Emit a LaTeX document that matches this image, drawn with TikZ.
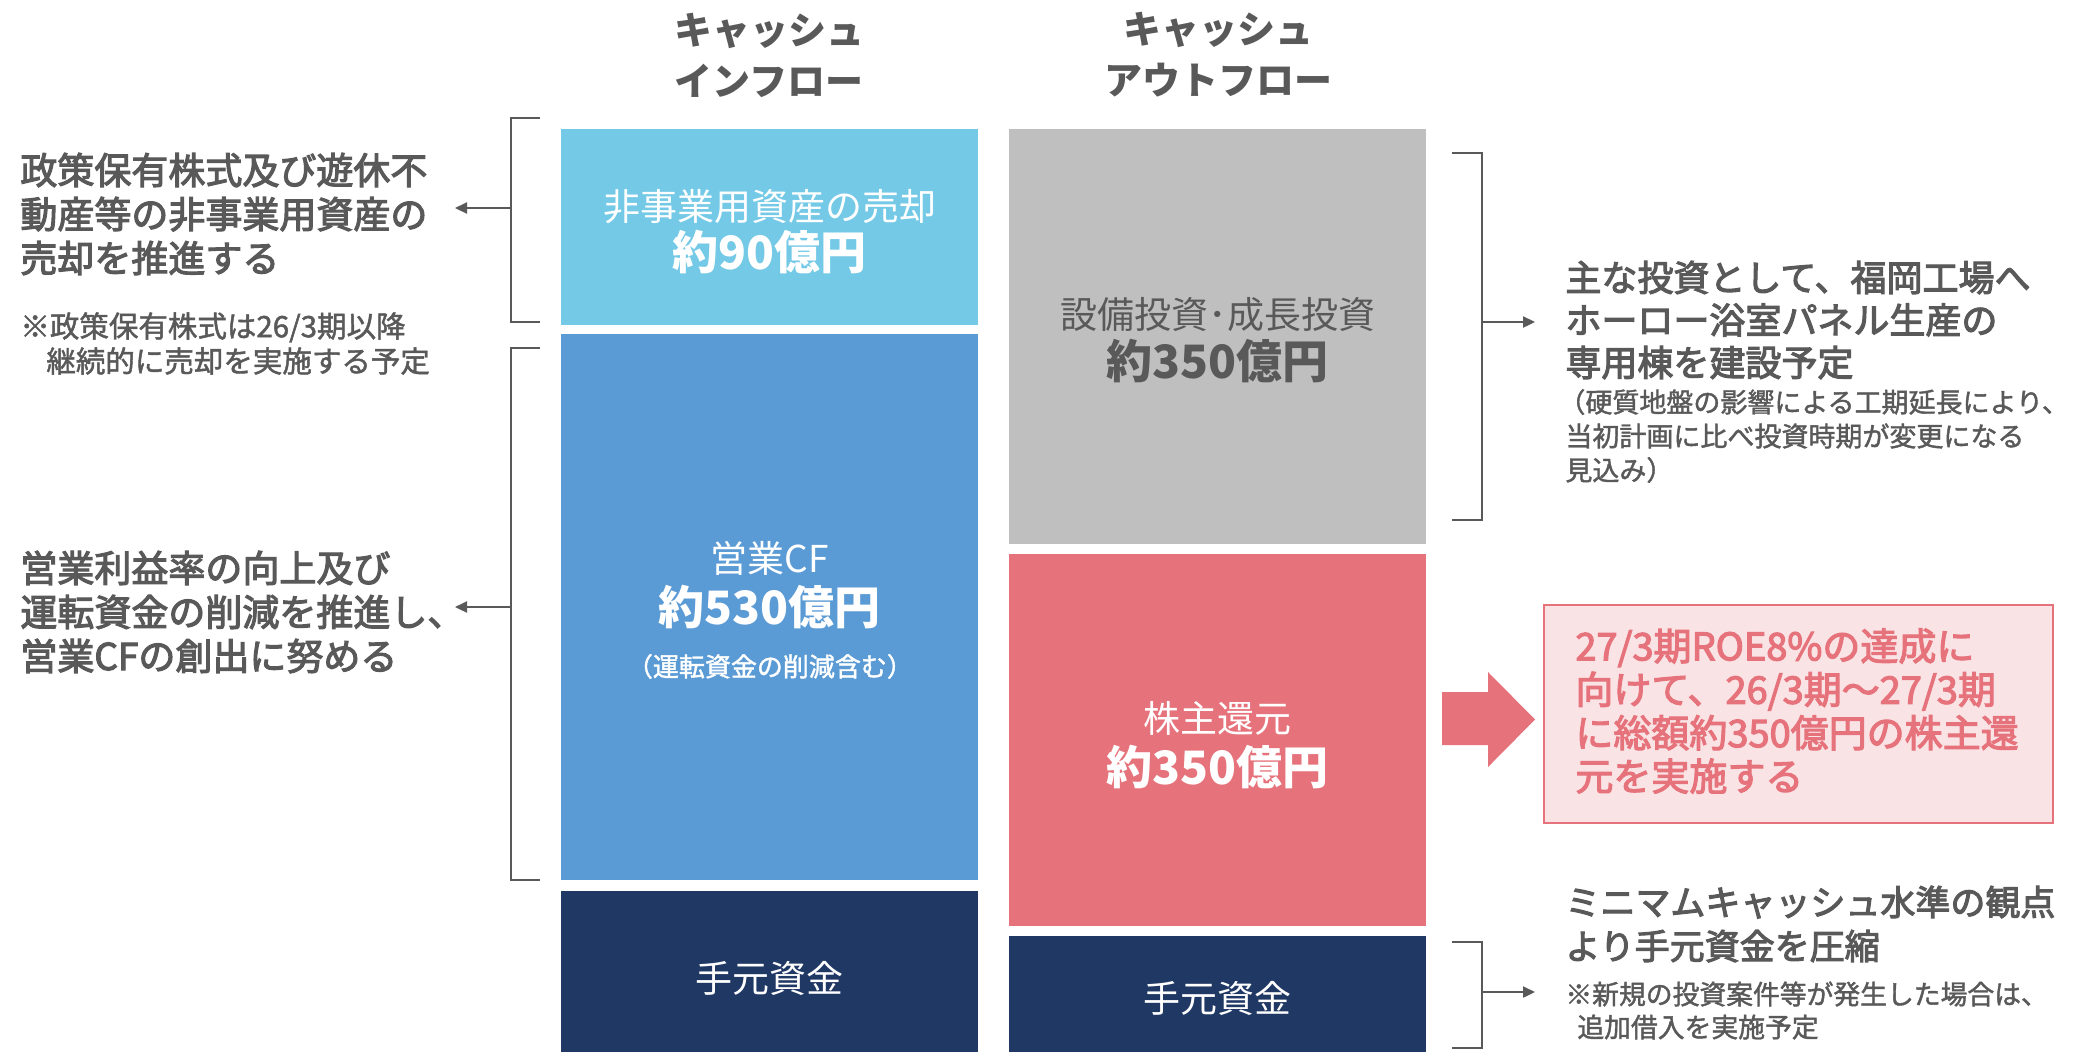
\documentclass[tikz,border=0pt]{standalone}
\usepackage{fontspec}
\setmainfont{Noto Sans CJK JP}
\newfontfamily\medf{Noto Sans CJK JP}[FakeBold=3]
\newfontfamily\semf{Noto Sans CJK JP}[FakeBold=1.5]
\usetikzlibrary{arrows.meta}
\definecolor{cTxt}{HTML}{595959}
\definecolor{cLB}{HTML}{73C9E6}
\definecolor{cMB}{HTML}{5B9BD5}
\definecolor{cNavy}{HTML}{203864}
\definecolor{cGray}{HTML}{BFBFBF}
\definecolor{cRed}{HTML}{E6737B}
\definecolor{cPink}{HTML}{FAE3E5}
\newcommand{\myfs}[2]{\fontsize{#1}{#2}\selectfont}
\tikzset{
  box/.style={rectangle, draw=none, minimum width=208.5pt, anchor=north west, inner sep=0pt},
  wtxt/.style={text=white, inner sep=0pt},
  gtxt/.style={text=cTxt, inner sep=0pt},
  hdr/.style={text=cTxt, align=center, inner sep=0pt, font=\bfseries\myfs{19}{25.5}},
  desc/.style={text=cTxt, align=left, anchor=west, inner sep=0pt},
  brk/.style={draw=cTxt, line width=1.3pt},
  arr/.style={draw=cTxt, line width=1.1pt, -{Triangle[length=6pt,width=5.5pt]}},
}
\begin{document}
\begin{tikzpicture}[x=0.5pt,y=-0.5pt]
\clip (0,0) rectangle (2080,1051);
\fill[white] (0,0) rectangle (2080,1051);

% headers
\node[hdr] (hin) at (769,55) {キャッシュ\\インフロー};
\node[hdr] (hout) at (1218,55) {キャッシュ\\アウトフロー};

% inflow boxes
\node[box, fill=cLB, minimum height=98pt] (nb) at (561,129) {};
\node[box, fill=cMB, minimum height=273pt] (ocf) at (561,334) {};
\node[box, fill=cNavy, minimum height=87pt] (cin) at (561,891) {};
% outflow boxes
\node[box, fill=cGray, minimum height=207.5pt] (capex) at (1009,129) {};
\node[box, fill=cRed, minimum height=186pt] (sh) at (1009,554) {};
\node[box, fill=cNavy, minimum height=62pt] (cout) at (1009,936) {};

% box texts
\node[wtxt, font=\myfs{18.5}{22}] (nb1) at ([yshift=10.5pt]nb.center) {非事業用資産の売却};
\node[wtxt, font=\bfseries\myfs{23}{26}] (nb2) at ([yshift=-12.5pt]nb.center) {約90億円};
\node[wtxt, font=\myfs{18.5}{22}] (ocf1) at ([yshift=24.5pt]ocf.center) {営業CF};
\node[wtxt, font=\bfseries\myfs{23}{26}] (ocf2) at (ocf.center) {約530億円};
\node[wtxt, font=\semf\myfs{13}{16}] (ocf3) at ([yshift=-29.5pt]ocf.center) {（運転資金の削減含む）};
\node[wtxt, font=\myfs{18.5}{22}] (cin1) at (cin.center) {手元資金};
\node[gtxt, font=\myfs{18.5}{22}] (cap1) at ([yshift=11.25pt]capex.center) {設備投資･成長投資};
\node[gtxt, font=\bfseries\myfs{23}{26}] (cap2) at ([yshift=-12.25pt]capex.center) {約350億円};
\node[wtxt, font=\myfs{18.5}{22}] (sh1) at ([yshift=11pt]sh.center) {株主還元};
\node[wtxt, font=\bfseries\myfs{23}{26}] (sh2) at ([yshift=-13.5pt]sh.center) {約350億円};
\node[wtxt, font=\myfs{18.5}{22}] (cout1) at (cout.center) {手元資金};

% left texts
\node[desc, font=\medf\myfs{18.5}{22}] (l1) at (20,214) {政策保有株式及び遊休不\\動産等の非事業用資産の\\売却を推進する};
\node[desc, font=\semf\myfs{14.75}{17.5}] (l1n) at (20,343.5) {※政策保有株式は26/3期以降\\\hspace*{13pt}継続的に売却を実施する予定};
\node[desc, font=\medf\myfs{18.5}{22}] (l2) at (20,612) {営業利益率の向上及び\\運転資金の削減を推進し、\\営業CFの創出に努める};

% right texts
\node[desc, font=\medf\myfs{18}{21.25}] (r1) at (1565,320) {主な投資として、福岡工場へ\\ホーロー浴室パネル生産の\\専用棟を建設予定};
\node[desc, font=\semf\myfs{13.5}{17}] (r1n) at (1558,436) {（硬質地盤の影響による工期延長により、\\\hspace*{3.5pt}当初計画に比べ投資時期が変更になる\\\hspace*{3.5pt}見込み）};
\node[desc, font=\medf\myfs{17.5}{22}] (r2) at (1565,924) {ミニマムキャッシュ水準の観点\\より手元資金を圧縮};
\node[desc, font=\semf\myfs{13.4}{16.5}] (r2n) at (1565,1010.5) {※新規の投資案件等が発生した場合は、\\\hspace*{6pt}追加借入を実施予定};

% pink box
\node[rectangle, draw=cRed, fill=cPink, line width=0.8pt, minimum width=254.5pt, minimum height=109pt, anchor=north west, inner sep=0pt] (pk) at (1543,604) {};
\node[desc, text=cRed, font=\medf\myfs{19}{21.7}] (pkt) at (1575,711) {27/3期ROE8\%の達成に\\向けて、26/3期～27/3期\\に総額約350億円の株主還\\元を実施する};

% big arrow
\fill[cRed] (1442,692) -- (1488,692) -- (1488,672) -- (1535,719.5) -- (1488,767) -- (1488,745) -- (1442,745) -- cycle;

% brackets
\draw[brk] (540,118) -- (511,118) -- (511,322) -- (540,322);
\draw[brk] (540,348) -- (511,348) -- (511,880) -- (540,880);
\draw[brk] (1452,153) -- (1482,153) -- (1482,520) -- (1452,520);
\draw[brk] (1452,942) -- (1482,942) -- (1482,1048) -- (1452,1048);

\coordinate (lb1) at (511,208);
\coordinate (la1) at (455,208);
\coordinate (lb2) at (511,607);
\coordinate (la2) at (455,607);
\coordinate (rb1) at (1482,322);
\coordinate (ra1) at (1535,322);
\coordinate (rb2) at (1482,992);
\coordinate (ra2) at (1535,992);
\draw[arr] (lb1) -- (la1);
\draw[arr] (lb2) -- (la2);
\draw[arr] (rb1) -- (ra1);
\draw[arr] (rb2) -- (ra2);
\end{tikzpicture}
\end{document}
